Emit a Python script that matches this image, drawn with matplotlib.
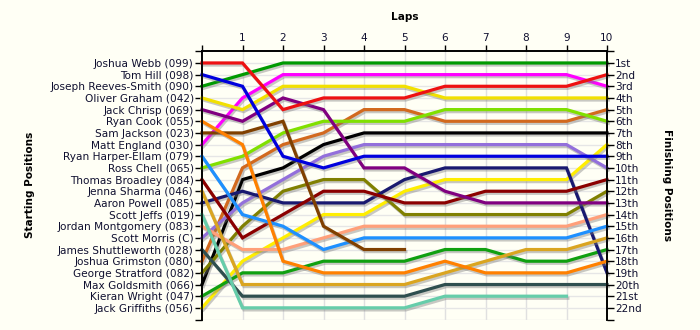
import matplotlib
matplotlib.use("Agg")
import matplotlib.pyplot as plt
import matplotlib.patheffects as pe
import numpy as np

nan = np.nan
laps = list(range(0, 11))
drivers = ["Joshua Webb (099)", "Tom Hill (098)", "Joseph Reeves-Smith (090)", "Oliver Graham (042)",
           "Jack Chrisp (069)", "Ryan Cook (055)", "Sam Jackson (023)", "Matt England (030)",
           "Ryan Harper-Ellam (079)", "Ross Chell (065)", "Thomas Broadley (084)", "Jenna Sharma (046)",
           "Aaron Powell (085)", "Scott Jeffs (019)", "Jordan Montgomery (083)", "Scott Morris (C)",
           "James Shuttleworth (028)", "Joshua Grimston (080)", "George Stratford (082)",
           "Max Goldsmith (066)", "Kieran Wright (047)", "Jack Griffiths (056)"]
colors = ["#ee1111", "#0000dd", "#009a00", "#f2e000", "#800080", "#ff8000", "#804000", "#ff00ff",
          "#1e90ff", "#80e000", "#8b0000", "#daa520", "#191970", "#66cdaa", "#ffa07a", "#9370db",
          "#2f4f4f", "#d2691e", "#808000", "#000000", "#10a010", "#ffee00"]
positions = [
    [1, 1, 5, 4, 4, 4, 3, 3, 3, 3, 2],
    [2, 3, 9, 10, 9, 9, 9, 9, 9, 9, 9],
    [3, 2, 1, 1, 1, 1, 1, 1, 1, 1, 1],
    [4, 5, 3, 3, 3, 3, 4, 4, 4, 4, 4],
    [5, 6, 4, 5, 10, 10, 12, 13, 13, 13, 13],
    [6, 8, 18, 19, 19, 19, 18, 19, 19, 19, 18],
    [7, 7, 6, 15, 17, 17, nan, nan, nan, nan, nan],
    [8, 4, 2, 2, 2, 2, 2, 2, 2, 2, 3],
    [9, 14, 15, 17, 16, 16, 16, 16, 16, 16, 15],
    [10, 9, 7, 6, 6, 6, 5, 5, 5, 5, 6],
    [11, 16, 14, 12, 12, 13, 13, 12, 12, 12, 11],
    [12, 20, 20, 20, 20, 20, 19, 18, 17, 17, 16],
    [13, 12, 13, 13, 13, 11, 10, 10, 10, 10, 19],
    [14, 22, 22, 22, 22, 22, 21, 21, 21, 21, nan],
    [15, 17, 17, 16, 15, 15, 15, 15, 15, 15, 14],
    [16, 13, 11, 9, 8, 8, 8, 8, 8, 8, 10],
    [17, 21, 21, 21, 21, 21, 20, 20, 20, 20, 20],
    [18, 10, 8, 7, 5, 5, 6, 6, 6, 6, 5],
    [19, 15, 12, 11, 11, 14, 14, 14, 14, 14, 12],
    [20, 11, 10, 8, 7, 7, 7, 7, 7, 7, 7],
    [21, 19, 19, 18, 18, 18, 17, 17, 18, 18, 17],
    [22, 18, 16, 14, 14, 12, 11, 11, 11, 11, 8],
]
finish_labels = ["1st", "2nd", "3rd", "4th", "5th", "6th", "7th", "8th", "9th", "10th", "11th",
                 "12th", "13th", "14th", "15th", "16th", "17th", "18th", "19th", "20th", "21st", "22nd"]

bg = "#fffff5"
txt = "#101030"
fs = 7.6
fig = plt.figure(figsize=(7, 3.3), dpi=100, facecolor=bg)
ax = fig.add_axes([202/700, 1-319.5/330, 405/700, (319.5-51.3)/330])
ax.set_facecolor(bg)

n = len(drivers)
ax.set_xlim(0, 10)
ax.set_ylim(n + 1, 0)

for v in range(1, 10):
    ax.axvline(v, color="#e0e0e0", lw=1, zorder=0)
for h in range(1, n + 2):
    ax.axhline(h, color="#e6e6e6", lw=1, zorder=0)

shadow = [pe.SimpleLineShadow(offset=(1.0, -1.5), shadow_color="#777777", alpha=0.4), pe.Normal()]
for i in reversed(range(n)):
    ax.plot(laps, positions[i], color=colors[i], lw=2.3, solid_joinstyle="miter",
            path_effects=shadow, zorder=3, clip_on=False)

yt = list(range(0, n + 2))
ax.set_yticks(yt)
ax.set_yticklabels([""] + drivers + [""], fontsize=fs, color=txt)
ax.tick_params(axis="y", direction="out", length=5, width=1, pad=1, left=True, right=False)

ax.xaxis.tick_top()
ax.set_xticks(laps)
ax.set_xticklabels([""] + [str(l) for l in laps[1:]], fontsize=fs, color=txt)
ax.tick_params(axis="x", direction="out", length=4, width=1, pad=2)

ax2 = ax.twinx()
ax2.set_ylim(n + 1, 0)
ax2.set_yticks(yt)
ax2.set_yticklabels([""] + finish_labels + [""], fontsize=fs, color=txt)
ax2.tick_params(axis="y", direction="out", length=5, width=1, pad=1)

for a in (ax, ax2):
    a.spines["bottom"].set_visible(False)
    for s in ("left", "right", "top"):
        a.spines[s].set_linewidth(1.2)

fig.text(405/700, 1-17/330, "Laps", ha="center", va="center", fontsize=fs, fontweight="bold")
fig.text(30/700, 1-185/330, "Starting Positions", ha="center", va="center", rotation=90,
         fontsize=fs, fontweight="bold")
fig.text(667/700, 1-185/330, "Finishing Positions", ha="center", va="center", rotation=-90,
         fontsize=fs, fontweight="bold")

fig.savefig("out.png", dpi=100, facecolor=bg)
